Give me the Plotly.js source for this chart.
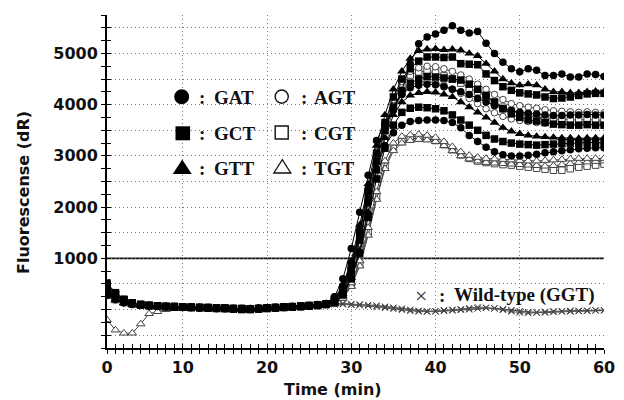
<!DOCTYPE html>
<html>
<head>
<meta charset="utf-8">
<script src="https://cdn.plot.ly/plotly-3.0.1.min.js"></script>
<style>html,body{margin:0;padding:0;background:#fff;}#chart{width:624px;height:400px;}</style>
</head>
<body>
<div id="chart"></div>
<script>
// ---- data ----
const minutes = [1,2,3,4,5,6,7,8,9,10,11,12,13,14,15,16,17,18,19,20,21,22,23,24,25,26,27,28,29,30,31,32,33,34,35,36,37,38,39,40,41,42,43,44,45,46,47,48,49,50,51,52,53,54,55,56,57,58,59,60];

const gatA = [380,260,170,120,90,80,70,60,60,50,50,40,40,30,30,20,20,20,30,30,40,50,60,70,80,100,120,
  250,600,1190,1900,2620,3300,3630,3890,4280,4800,5190,5320,5380,5450,5540,5450,5400,5430,5200,5000,4830,4700,4640,4700,4670,4570,4570,4600,4540,4540,4600,4590,4550];
const gttA = [300,200,130,100,80,70,60,60,50,50,40,40,30,30,20,20,10,10,20,30,40,50,60,60,70,90,110,
  220,480,950,1650,2450,3200,3800,4300,4650,4900,5050,5080,5090,5070,5080,5060,5000,4950,4800,4650,4500,4420,4380,4400,4380,4300,4250,4250,4230,4230,4250,4260,4250];
const gctA = [520,330,200,130,100,80,70,60,60,50,50,40,40,30,30,20,20,10,20,30,40,50,50,60,70,90,110,
  200,420,850,1500,2300,3050,3650,4150,4500,4700,4850,4930,4930,4920,4930,4800,4790,4780,4600,4470,4350,4280,4230,4210,4190,4150,4120,4130,4150,4180,4210,4220,4220];
const agtA = [350,230,150,110,90,80,70,60,50,50,40,40,30,30,20,20,10,10,20,30,40,50,60,70,80,90,110,
  180,380,800,1450,2250,3000,3600,4100,4450,4650,4720,4750,4740,4700,4650,4580,4500,4400,4300,4200,4100,4020,3980,3950,3930,3900,3880,3870,3860,3850,3860,3850,3840];
const cgtA = [450,300,180,120,90,80,70,60,60,50,50,40,40,30,30,20,20,10,20,30,40,50,50,60,80,90,100,
  160,330,700,1300,2100,2900,3550,4050,4400,4580,4640,4650,4620,4560,4500,4420,4320,4250,4150,4050,3950,3880,3820,3790,3760,3730,3720,3710,3700,3700,3710,3700,3690];
const gctB = [480,310,190,130,100,80,70,60,50,50,40,40,30,20,20,10,0,0,10,20,30,40,50,60,70,80,100,
  170,360,750,1350,2150,2900,3500,3950,4250,4420,4500,4550,4540,4520,4500,4480,4400,4300,4180,4050,3920,3820,3750,3700,3680,3650,3620,3610,3600,3600,3610,3600,3600];
const gatB = [330,220,150,110,90,80,70,60,50,50,40,30,30,20,20,10,10,0,10,20,30,40,50,60,70,90,110,
  200,450,900,1550,2350,3050,3600,3950,4200,4330,4380,4400,4390,4350,4300,4250,4200,4120,4050,3980,3920,3880,3850,3830,3820,3800,3790,3790,3800,3800,3810,3800,3800];
const gttB = [300,200,140,100,80,70,60,60,50,50,40,40,30,30,20,10,10,10,20,30,30,40,50,60,70,80,100,
  150,300,620,1150,1900,2700,3350,3800,4050,4180,4230,4250,4240,4200,4150,4050,3950,3850,3750,3650,3550,3480,3430,3400,3380,3370,3360,3350,3350,3340,3350,3350,3350];
const agtB = [370,240,160,110,90,80,70,60,60,50,50,40,40,30,30,20,20,20,30,30,40,50,60,70,80,90,110,
  150,310,650,1200,1950,2750,3400,3900,4200,4380,4440,4450,4430,4380,4300,4220,4120,4020,3920,3840,3770,3720,3690,3670,3650,3640,3630,3620,3620,3610,3620,3610,3600];
const gatC = [280,190,130,100,80,70,60,50,50,40,40,30,30,20,20,10,10,10,20,30,30,40,50,60,70,80,100,
  180,400,800,1400,2100,2750,3200,3450,3600,3670,3690,3700,3700,3690,3650,3550,3400,3280,3170,3080,3020,3000,3000,3010,3030,3060,3080,3100,3120,3140,3150,3160,3160];
const gctC = [420,280,180,120,90,80,70,60,50,50,40,40,30,30,20,20,10,10,20,30,40,50,60,70,80,90,110,
  140,290,600,1100,1800,2550,3150,3600,3850,3930,3950,3940,3920,3880,3800,3700,3600,3500,3400,3330,3280,3250,3230,3220,3210,3220,3230,3240,3250,3250,3260,3260,3250];
const cgtB = [500,320,200,130,100,80,70,60,60,50,50,40,40,30,30,20,20,10,20,30,40,50,50,60,70,80,100,
  120,240,480,900,1500,2200,2800,3150,3280,3330,3350,3340,3300,3220,3120,3020,2950,2900,2870,2850,2830,2820,2800,2780,2760,2740,2720,2720,2750,2780,2800,2820,2840];
const tgtA = [-200,-400,-460,-460,-280,-80,-40,0,20,30,30,30,20,20,10,10,0,0,10,20,30,40,50,60,70,80,90,
  110,220,450,850,1450,2150,2750,3100,3250,3300,3320,3310,3280,3200,3100,3000,2940,2900,2870,2860,2850,2840,2830,2820,2810,2800,2810,2830,2850,2870,2880,2890,2900];
const tgtB = [250,170,120,90,80,70,60,60,50,50,40,40,30,30,20,20,10,10,20,30,40,50,50,60,70,80,100,
  130,260,520,950,1600,2300,2900,3250,3380,3410,3420,3400,3360,3280,3180,3080,3010,2970,2950,2940,2930,2920,2910,2900,2900,2910,2920,2930,2940,2950,2950,2950,2950];
const ggtA = [300,200,140,100,80,70,60,50,50,40,40,30,30,20,20,10,10,10,20,30,40,50,60,70,80,90,100,
  110,110,100,100,90,80,60,40,20,0,-20,-30,-30,-20,-10,0,10,20,30,20,0,-20,-40,-50,-50,-40,-30,-30,-20,-20,-20,-10,-10];
const ggtB = [420,260,160,110,90,70,60,60,50,50,40,30,30,20,20,10,0,0,10,20,30,40,50,60,70,80,90,
  100,100,90,80,70,50,30,10,-10,-30,-40,-40,-30,-10,0,10,30,50,40,20,-10,-40,-60,-70,-60,-50,-40,-30,-30,-30,-20,-20,-10];
const ggtC = [360,230,150,110,90,80,70,60,60,50,50,40,40,30,30,20,20,20,30,40,50,60,70,80,90,100,110,
  120,120,110,100,90,70,50,30,10,-10,-30,-40,-40,-30,-20,-10,0,20,30,30,10,-10,-30,-50,-60,-60,-50,-40,-40,-30,-30,-20,-20];

const threshold = 1000;
const xTickVals = [1,10,20,30,40,50,60];
const xTickText = ['0','10','20','30','40','50','60'];
const yTickVals = [-500,0,500,1000,1500,2000,2500,3000,3500,4000,4500,5000,5500];
const yTickText = ['','','','1000','','2000','','3000','','4000','','5000',''];

// ---- series styling ----
const series = [
  {y: ggtA, kind: 'wt'}, {y: ggtB, kind: 'wt'}, {y: ggtC, kind: 'wt'},
  {y: cgtB, sym: 'square', open: true}, {y: tgtA, sym: 'triangle-up', open: true},
  {y: tgtB, sym: 'triangle-up', open: true}, {y: agtB, sym: 'circle', open: true},
  {y: cgtA, sym: 'square', open: true}, {y: agtA, sym: 'circle', open: true},
  {y: gatC, sym: 'circle'}, {y: gctC, sym: 'square'}, {y: gttB, sym: 'triangle-up'},
  {y: gatB, sym: 'circle'}, {y: gctB, sym: 'square'}, {y: gctA, sym: 'square'},
  {y: gttA, sym: 'triangle-up'}, {y: gatA, sym: 'circle'}
];

const traces = series.map(s => {
  if (s.kind === 'wt') {
    return {x: minutes, y: s.y, type: 'scatter', mode: 'lines+markers', hoverinfo: 'skip',
      line: {color: '#555', width: 1},
      marker: {symbol: 'x-thin', size: 6, line: {color: '#444', width: 1}}};
  }
  const sz = s.sym === 'triangle-up' ? 8.5 : 7.5;
  return {x: minutes, y: s.y, type: 'scatter', mode: 'lines+markers', hoverinfo: 'skip',
    line: {color: s.open ? '#444' : '#000', width: 1},
    marker: s.open ? {symbol: s.sym, size: sz - 1, color: '#fff', line: {color: '#444', width: 1}}
                   : {symbol: s.sym, size: sz, color: '#000', line: {color: '#000', width: 0}}};
});
// helper trace for overlay axes (inside tick marks)
traces.push({x: [null], y: [null], xaxis: 'x2', yaxis: 'y2', type: 'scatter', mode: 'markers', hoverinfo: 'skip'});

// ---- layout helpers (pixel -> paper) ----
const L = 107, R = 604, T = 15, B = 348;
const px = v => (v - L) / (R - L);
const py = v => (B - v) / (B - T);

const tickFont = {family: 'DejaVu Sans', size: 16, weight: 'bold', color: '#111'};
const serif = {family: 'Liberation Serif', size: 19, weight: 'bold', color: '#111'};

const ann = [];
function text(t, x, y, font, anchor) {
  ann.push({text: t, x: px(x), y: py(y), xref: 'paper', yref: 'paper', showarrow: false,
    xanchor: anchor || 'left', yanchor: 'middle', font: font});
}
ann.push({text: 'Fluorescense (dR)', x: px(24), y: py(193), xref: 'paper', yref: 'paper', showarrow: false,
  textangle: -90, xanchor: 'center', yanchor: 'middle', font: tickFont});
ann.push({text: 'Time (min)', x: px(333), y: py(389), xref: 'paper', yref: 'paper', showarrow: false,
  xanchor: 'center', yanchor: 'middle', font: tickFont});

const rows = [97, 133, 168];
const leftNames = ['GAT', 'GCT', 'GTT'];
const rightNames = ['AGT', 'CGT', 'TGT'];
rows.forEach((ry, i) => {
  text(':', 201.7, ry, serif, 'center');
  text(leftNames[i], 212, ry, serif, 'left');
  text(':', 304, ry, serif, 'center');
  text(rightNames[i], 312, ry, serif, 'left');
});
text('\u00d7', 421, 295, {family: 'Liberation Serif', size: 22, color: '#333'}, 'center');
text(':', 441.7, 295, serif, 'center');
text('Wild-type (GGT)', 452, 295, serif, 'left');

function pixShape(type, cx, cy, opts) {
  return Object.assign({type: type, xref: 'paper', yref: 'paper', xsizemode: 'pixel', ysizemode: 'pixel',
    xanchor: px(cx), yanchor: py(cy)}, opts);
}
const shapes = [
  {type: 'line', xref: 'x', yref: 'y', x0: 1, x1: 60, y0: threshold, y1: threshold, line: {color: '#111', width: 1.6}, layer: 'below'},
  pixShape('circle', 181.7, 96.8, {x0: -7.5, x1: 7.5, y0: -7.5, y1: 7.5, fillcolor: '#000', line: {width: 0}}),
  pixShape('circle', 281.7, 96.6, {x0: -6.6, x1: 6.6, y0: -6.6, y1: 6.6, fillcolor: '#fff', line: {color: '#111', width: 1.4}}),
  pixShape('rect', 182.8, 133.3, {x0: -7.3, x1: 7.3, y0: -7.0, y1: 7.0, fillcolor: '#000', line: {width: 0}}),
  pixShape('rect', 281.7, 132.5, {x0: -6.5, x1: 6.5, y0: -6.5, y1: 6.5, fillcolor: '#fff', line: {color: '#111', width: 1.4}}),
  pixShape('path', 182.2, 167, {path: 'M-9.5,-7 L9.5,-7 L0,7.5 Z', fillcolor: '#000', line: {width: 0}}),
  pixShape('path', 282.3, 166.5, {path: 'M-8.5,-6.5 L8.5,-6.5 L0,6.8 Z', fillcolor: '#fff', line: {color: '#111', width: 1.3}})
];

const layout = {
  width: 624, height: 400,
  margin: {l: L, r: 624 - R, t: T, b: 400 - B, pad: 0},
  paper_bgcolor: '#fff', plot_bgcolor: '#fff',
  showlegend: false,
  xaxis: {range: [1, 60], tickmode: 'array', tickvals: xTickVals, ticktext: xTickText,
    ticks: 'outside', ticklen: 4, tickwidth: 1, tickcolor: '#000',
    minor: {tickmode: 'linear', tick0: 0, dtick: 1, ticks: 'outside', ticklen: 4, tickwidth: 1, tickcolor: '#000', showgrid: false},
    showgrid: true, gridcolor: '#777', gridwidth: 1, griddash: '1px,3px',
    showline: true, linecolor: '#000', linewidth: 2, zeroline: false, tickfont: tickFont, fixedrange: true},
  yaxis: {range: [-750, 5750], tickmode: 'array', tickvals: yTickVals, ticktext: yTickText,
    ticks: 'outside', ticklen: 4, tickwidth: 1, tickcolor: '#000',
    minor: {tickmode: 'linear', tick0: 0, dtick: 250, ticks: 'outside', ticklen: 4, tickwidth: 1, tickcolor: '#000', showgrid: false},
    showgrid: true, gridcolor: '#777', gridwidth: 1, griddash: '1px,3px',
    showline: true, linecolor: '#000', linewidth: 2, zeroline: false, tickfont: tickFont, fixedrange: true},
  xaxis2: {overlaying: 'x', anchor: 'y', side: 'bottom', range: [1, 60], tickmode: 'linear', tick0: 0, dtick: 1,
    ticks: 'inside', ticklen: 4, tickwidth: 1, tickcolor: '#000', showticklabels: false, showgrid: false, zeroline: false, showline: false, fixedrange: true},
  yaxis2: {overlaying: 'y', anchor: 'x', side: 'left', range: [-750, 5750], tickmode: 'linear', tick0: 0, dtick: 250,
    ticks: 'inside', ticklen: 4, tickwidth: 1, tickcolor: '#000', showticklabels: false, showgrid: false, zeroline: false, showline: false, fixedrange: true},
  annotations: ann,
  shapes: shapes
};

Plotly.newPlot('chart', traces, layout, {displayModeBar: false, staticPlot: true});
</script>
</body>
</html>
